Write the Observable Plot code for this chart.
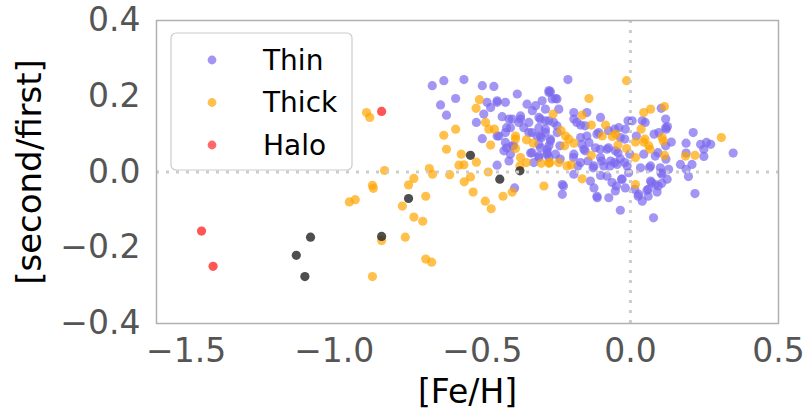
<!DOCTYPE html>
<html>
<head>
<meta charset="utf-8">
<script src="https://cdn.jsdelivr.net/npm/d3@7"></script>
<script src="https://cdn.jsdelivr.net/npm/@observablehq/plot@0.6"></script>
<style>
  html, body { margin: 0; padding: 0; background: white; }
  #chart { width: 805px; height: 411px; }
</style>
</head>
<body>
<div id="chart"></div>
<script>
// [Fe/H], [second/first]
const thin = [
[-0.669,0.228],[-0.63,0.241],[-0.562,0.244],[-0.5,0.228],[-0.461,0.226],[-0.59,0.194],[-0.641,0.177],[-0.621,0.15],[-0.382,0.206],[-0.484,0.184],[-0.45,0.184],[-0.422,0.184],[-0.472,0.17],[-0.495,0.153],[-0.52,0.131],[-0.433,0.146],[-0.41,0.14],[-0.418,0.117],[-0.45,0.095],[-0.5,0.088],[-0.418,0.064],[-0.41,0.029],[-0.45,0.018],[-0.391,-0.042],[-0.349,0.179],[-0.331,0.162],[-0.298,0.188],[-0.371,0.148],[-0.309,0.144],[-0.287,0.166],[-0.36,0.117],[-0.332,0.104],[-0.304,0.095],[-0.287,0.113],[-0.394,0.069],[-0.337,0.05],[-0.304,0.064],[-0.309,0.038],[-0.326,0.025],[-0.405,0.047],[-0.275,0.215],[-0.275,0.069],[-0.281,0.047],
[-0.211,0.244],[-0.27,0.212],[-0.253,0.194],[-0.242,0.166],[-0.191,0.157],[-0.191,0.14],[-0.101,0.144],[-0.287,0.135],[-0.259,0.131],[-0.168,0.124],[-0.107,0.104],[-0.039,0.117],[0.006,0.135],[0.04,0.135],[-0.017,0.113],[-0.034,0.091],[0.104,0.168],[0.119,0.14],[0.119,0.117],[0.096,0.104],[-0.3,0.091],[-0.27,0.082],[-0.247,0.104],[-0.168,0.091],[-0.14,0.078],[-0.118,0.064],[-0.157,0.06],[-0.079,0.06],[-0.051,0.056],[-0.281,0.051],[-0.253,0.047],[-0.191,0.047],[-0.101,0.038],[-0.067,0.029],[-0.034,0.035],[0.045,0.047],[0.084,0.042],[-0.168,0.025],[-0.123,0.016],[-0.09,0.016],[-0.045,0.02],[-0.011,0.016],[0.034,0.011],[0.068,0.016],[0.101,0.011],[0.129,0.007],[-0.191,-0.006],[-0.135,-0.024],[-0.101,-0.009],[-0.062,-0.028],[-0.028,-0.019],[-0.006,-0.002],[-0.23,-0.033],[-0.23,-0.059],[-0.123,-0.042],[-0.112,-0.068],[-0.073,-0.068],[-0.051,-0.05],[-0.017,-0.042],[0.068,-0.024],[0.084,-0.033],[0.056,-0.048],[0.09,-0.053],[0.028,-0.059],[0.04,-0.077],[-0.034,-0.101],[0.078,-0.121],[0.124,-0.019],[-0.079,-0.011],
[0.125,0.12],[0.212,0.104],[0.138,0.079],[0.119,0.069],[0.188,0.076],[0.237,0.073],[0.257,0.078],[0.271,0.073],[0.248,0.06],[0.248,0.041],[0.347,0.05],[0.188,0.05],[0.169,0.02],[0.208,0.02],[0.188,0.007],[0.196,-0.012],[0.106,-0.006],[0.106,-0.03],[0.218,-0.057],
[-0.275,0.21],[-0.32,0.175],[-0.264,0.193],[-0.399,0.14],[-0.371,0.14],[-0.377,0.131],[-0.343,0.131],[-0.275,0.135],[-0.405,0.117],[-0.309,0.117],[-0.444,0.095],[-0.422,0.104],[-0.343,0.104],[-0.315,0.095],[-0.287,0.104],[-0.27,0.087],[-0.422,0.078],[-0.399,0.069],[-0.309,0.073],[-0.281,0.06],[-0.332,0.051],
[-0.45,0.188],[-0.304,0.14],[-0.427,0.056],[-0.275,0.038],[-0.309,0.042],
[-0.248,0.193],[-0.147,0.157],[-0.248,0.122],[-0.181,0.131],[-0.153,0.122],[-0.147,0.095],[-0.074,0.109],[-0.164,0.073],[-0.153,0.056],[-0.074,0.064],[-0.237,0.034],[-0.143,0.029],[-0.097,0.029],[-0.177,0.016],[-0.126,0.011],
[-0.113,0.1],[-0.238,0.069],[-0.102,0.06],[-0.192,0.038],[-0.069,0.016],[-0.226,-0.037],[-0.113,-0.064],
[0.05,0.131],[-0.053,0.113],[0.08,0.1],[-0.019,0.087],[0.02,0.095],[-0.042,0.051],[0.093,0.051],[0.12,0.034],[-0.019,0.025],[0.071,-0.028],[0.015,-0.046],[0.06,-0.046],
[-0.008,0.135],[0.121,0.113],[-0.002,0.047],[-0.053,0.025],[0.064,0.011],[0.103,-0.002],[-0.03,-0.019],[-0.047,-0.037],[0.094,-0.037],[0.06,-0.064],[0.026,-0.064]
];
const thick = [
[-0.891,0.157],[-0.88,0.144],[-0.83,0.004],[-0.871,-0.035],[-0.868,-0.043],[-0.949,-0.079],[-0.929,-0.073],[-0.731,-0.017],[-0.749,-0.034],[-0.691,-0.064],[-0.77,-0.09],[-0.731,-0.119],[-0.701,-0.13],[-0.76,-0.172],[-0.84,-0.181],[-0.691,-0.23],[-0.671,-0.238],[-0.871,-0.276],[-0.679,0.009],[-0.668,-0.006],
[-0.51,0.191],[-0.521,0.168],[-0.59,0.113],[-0.63,0.097],[-0.621,0.06],[-0.489,0.131],[-0.478,0.113],[-0.459,0.113],[-0.472,0.071],[-0.571,0.047],[-0.579,0.018],[-0.562,0.019],[-0.52,0.026],[-0.61,-0.007],[-0.561,-0.026],[-0.54,-0.013],[-0.48,0.0],[-0.531,-0.053],[-0.49,-0.077],[-0.47,-0.097],[-0.43,-0.064],[-0.399,-0.053],[-0.388,0.095],[-0.388,0.062],[-0.371,0.038],[-0.351,0.025],[-0.351,0.085],[-0.328,0.076],[-0.373,0.016],[-0.301,0.023],[-0.275,0.023],[-0.292,-0.037],[-0.388,0.087],
[-0.013,0.241],[-0.14,0.194],[-0.261,0.153],[-0.163,0.15],[-0.132,0.124],[-0.084,0.124],[-0.234,0.109],[-0.219,0.095],[-0.208,0.087],[-0.191,0.076],[-0.222,0.069],[-0.095,0.095],[-0.061,0.094],[-0.05,0.1],[-0.042,0.071],[-0.132,0.044],[-0.013,0.062],[0.017,0.038],[0.017,0.079],[0.036,0.113],[0.045,0.157],[0.068,0.166],[0.115,0.173],[0.045,0.079],[0.062,0.069],[0.107,0.091],[0.115,0.044],[-0.272,0.025],[-0.242,0.025],[-0.214,0.016],[-0.2,0.019],[-0.163,-0.018],[0.017,-0.033],
[0.307,0.091],[0.186,0.042],[0.218,0.044],[0.049,0.087],[0.066,0.06],[0.111,0.082]
];
const halo = [[-1.448,-0.156],[-1.409,-0.249],[-0.84,0.16]];
const other = [[-1.08,-0.172],[-1.128,-0.22],[-1.099,-0.276],[-0.84,-0.17],[-0.749,-0.07],[-0.54,0.044],[-0.441,-0.019],[-0.373,0.003]];

const groups = ["Thin", "Thick", "Halo"];
const groupColors = ["#7b68ee", "#ffa500", "#ff2a2a"];
const otherColor = "#222222";
const xTicks = [-1.5, -1.0, -0.5, 0.0, 0.5];
const yTicks = [-0.4, -0.2, 0.0, 0.2, 0.4];
const xLabel = "[Fe/H]";
const yLabel = "[second/first]";

const fmt = d => d.toFixed(1).replace("-", "\u2212");
const FONT = "DejaVu Sans";
const R = 4.6;

const plot = Plot.plot({
  width: 805,
  height: 411,
  marginLeft: 156,
  marginRight: 27,
  marginTop: 20,
  marginBottom: 88,
  style: { fontFamily: FONT, color: "#555555", background: "white", overflow: "visible" },
  x: { domain: [-1.6, 0.5] },
  y: { domain: [-0.4, 0.4] },
  marks: [
    Plot.dot(thin, { x: d => d[0], y: d => d[1], r: R, fill: groupColors[0], fillOpacity: 0.7, stroke: "none" }),
    Plot.dot(thick, { x: d => d[0], y: d => d[1], r: R, fill: groupColors[1], fillOpacity: 0.7, stroke: "none" }),
    Plot.dot(halo, { x: d => d[0], y: d => d[1], r: R, fill: groupColors[2], fillOpacity: 0.8, stroke: "none" }),
    Plot.dot(other, { x: d => d[0], y: d => d[1], r: R, fill: otherColor, fillOpacity: 0.8, stroke: "none" }),
    Plot.ruleX([0], { stroke: "#cccccc", strokeWidth: 3, strokeDasharray: "3,7" }),
    Plot.ruleY([0], { stroke: "#cccccc", strokeWidth: 3, strokeDasharray: "3,7" }),
    Plot.axisX({ ticks: xTicks, tickFormat: fmt, tickSize: 0, tickPadding: 15, fontSize: 33, label: null }),
    Plot.axisY({ ticks: yTicks, tickFormat: fmt, tickSize: 0, tickPadding: 16, fontSize: 33, label: null }),
    Plot.text([xLabel], { text: d => d, frameAnchor: "bottom", dy: 69, lineAnchor: "middle", textAnchor: "middle", fontSize: 33, fill: "black" }),
    Plot.text([yLabel], { text: d => d, frameAnchor: "left", dx: -126, rotate: -90, lineAnchor: "middle", textAnchor: "middle", fontSize: 34, fill: "black" }),
    Plot.frame({ stroke: "#b0b0b0", strokeWidth: 1.5 })
  ]
});

// legend inside the plot
const svg = d3.select(plot);
const lg = svg.append("g").attr("font-family", FONT).attr("text-anchor", "start");
lg.append("rect").attr("x", 171).attr("y", 33).attr("width", 181).attr("height", 137)
  .attr("rx", 5).attr("fill", "white").attr("fill-opacity", 0.8).attr("stroke", "#cccccc").attr("stroke-width", 1.2);
groups.forEach((g, i) => {
  const cy = 60 + i * 42.5;
  lg.append("circle").attr("cx", 212).attr("cy", cy).attr("r", 4.4).attr("fill", groupColors[i]).attr("fill-opacity", 0.7);
  lg.append("text").attr("x", 263).attr("y", cy).attr("dy", "0.34em").attr("text-anchor", "start")
    .attr("font-size", 28).attr("fill", "black").text(g);
});

document.getElementById("chart").appendChild(plot);
</script>
</body>
</html>
